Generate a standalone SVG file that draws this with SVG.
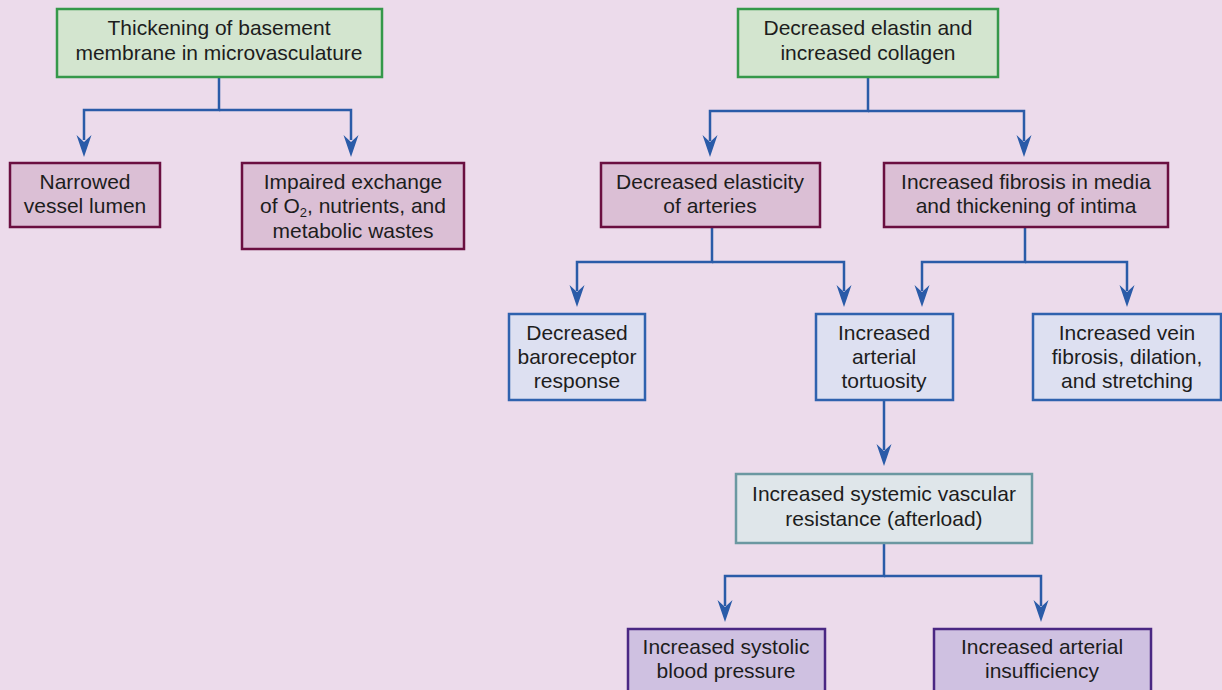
<svg xmlns="http://www.w3.org/2000/svg" width="1222" height="690" viewBox="0 0 1222 690">
  <style>
    .bg { fill: #ecdbeb; }
    .box { stroke-width: 2.5; }
    .green { fill: #d3e5cf; stroke: #35984a; }
    .maroon { fill: #dbbfd5; stroke: #6a0f40; }
    .blue { fill: #dde0f1; stroke: #2f62ae; }
    .teal { fill: #dfe6ea; stroke: #6b98a1; }
    .purple { fill: #cfc1e1; stroke: #4a2783; }
    text { font-family: "Liberation Sans", Arial, sans-serif; font-size: 21px; fill: #1d1d1d; text-anchor: middle; }
    .sub { font-size: 13px; }
    .wire { fill: none; stroke: #2a5ba8; stroke-width: 2.5; }
  </style>
  <defs>
    <path id="head" d="M0 0 L-7.5 -22 L0 -15 L7.5 -22 Z" fill="#2a5ba8"/>
  </defs>

  <rect class="bg" x="0" y="0" width="1222" height="690"/>

  <!-- connectors -->
  <g id="connectors">
    <path class="wire" d="M219 78 V110 H84 V140"/>
    <path class="wire" d="M219 110 H351 V140"/>
    <path class="wire" d="M868 78 V111 H710 V141"/>
    <path class="wire" d="M868 111 H1024 V141"/>
    <path class="wire" d="M712 227 V262 H577 V291"/>
    <path class="wire" d="M712 262 H844 V291"/>
    <path class="wire" d="M1025 227 V262 H922 V291"/>
    <path class="wire" d="M1025 262 H1127 V291"/>
    <path class="wire" d="M884 400 V450"/>
    <path class="wire" d="M884 543 V576 H725 V606"/>
    <path class="wire" d="M884 576 H1041 V606"/>
    <use href="#head" x="84" y="157"/>
    <use href="#head" x="351" y="157"/>
    <use href="#head" x="710" y="157"/>
    <use href="#head" x="1024" y="157"/>
    <use href="#head" x="577" y="307"/>
    <use href="#head" x="844" y="307"/>
    <use href="#head" x="922" y="307"/>
    <use href="#head" x="1127" y="307"/>
    <use href="#head" x="884" y="466"/>
    <use href="#head" x="725" y="622"/>
    <use href="#head" x="1041" y="622"/>
  </g>

  <!-- left tree -->
  <g id="thickening">
    <rect class="box green" x="57" y="9" width="325" height="68"/>
    <text x="219" y="35">Thickening of basement</text>
    <text x="219" y="60">membrane in microvasculature</text>
  </g>
  <g id="narrowed">
    <rect class="box maroon" x="10" y="163" width="150" height="64"/>
    <text x="85" y="189">Narrowed</text>
    <text x="85" y="213">vessel lumen</text>
  </g>
  <g id="impaired">
    <rect class="box maroon" x="242" y="163" width="222" height="86"/>
    <text x="353" y="189">Impaired exchange</text>
    <text x="353" y="213">of O<tspan class="sub" dy="4">2</tspan><tspan dy="-4">, nutrients, and</tspan></text>
    <text x="353" y="238">metabolic wastes</text>
  </g>

  <!-- right tree -->
  <g id="elastin">
    <rect class="box green" x="738" y="9" width="260" height="68"/>
    <text x="868" y="35">Decreased elastin and</text>
    <text x="868" y="60">increased collagen</text>
  </g>
  <g id="elasticity">
    <rect class="box maroon" x="601" y="163" width="219" height="64"/>
    <text x="710" y="189">Decreased elasticity</text>
    <text x="710" y="213">of arteries</text>
  </g>
  <g id="fibrosis">
    <rect class="box maroon" x="884" y="163" width="284" height="64"/>
    <text x="1026" y="189">Increased fibrosis in media</text>
    <text x="1026" y="213">and thickening of intima</text>
  </g>
  <g id="baroreceptor">
    <rect class="box blue" x="509" y="314" width="136" height="86"/>
    <text x="577" y="340">Decreased</text>
    <text x="577" y="364">baroreceptor</text>
    <text x="577" y="388">response</text>
  </g>
  <g id="tortuosity">
    <rect class="box blue" x="816" y="314" width="137" height="86"/>
    <text x="884" y="340">Increased</text>
    <text x="884" y="364">arterial</text>
    <text x="884" y="388">tortuosity</text>
  </g>
  <g id="vein">
    <rect class="box blue" x="1033" y="314" width="188" height="86"/>
    <text x="1127" y="340">Increased vein</text>
    <text x="1127" y="364">fibrosis, dilation,</text>
    <text x="1127" y="388">and stretching</text>
  </g>
  <g id="resistance">
    <rect class="box teal" x="736" y="474" width="296" height="69"/>
    <text x="884" y="501">Increased systemic vascular</text>
    <text x="884" y="526">resistance (afterload)</text>
  </g>
  <g id="systolic">
    <rect class="box purple" x="628" y="629" width="197" height="70"/>
    <text x="726" y="654">Increased systolic</text>
    <text x="726" y="678">blood pressure</text>
  </g>
  <g id="insufficiency">
    <rect class="box purple" x="934" y="629" width="217" height="70"/>
    <text x="1042" y="654">Increased arterial</text>
    <text x="1042" y="678">insufficiency</text>
  </g>
</svg>
